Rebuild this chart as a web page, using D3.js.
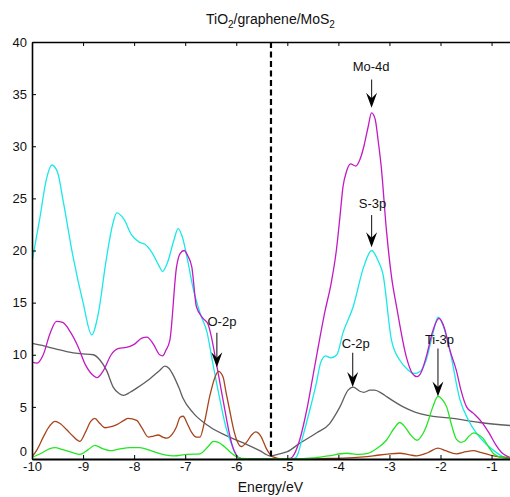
<!DOCTYPE html>
<html>
<head>
<meta charset="utf-8">
<script src="https://cdn.jsdelivr.net/npm/d3@7"></script>
<style>
  html, body { margin: 0; padding: 0; background: #fff; }
  svg text { font-family: "Liberation Sans", Arial, sans-serif; fill: #111; }
  .axis path, .axis line { stroke: #000; }
  .axis text { font-size: 13px; }
</style>
</head>
<body>
<svg id="chart"></svg>
<script>
// density of states, [energy (eV), states]
var cyanDos = [[-10,18.9],[-9.85,23],[-9.72,26.8],[-9.61,28.2],[-9.5,27.5],[-9.38,24.5],[-9.2,19.5],[-9.0,15],[-8.83,11.9],[-8.7,14],[-8.55,19],[-8.42,22.5],[-8.34,23.6],[-8.2,23],[-8.05,21.5],[-7.9,20.8],[-7.79,20.6],[-7.65,19.8],[-7.52,18.6],[-7.44,18.0],[-7.35,18.8],[-7.22,21],[-7.14,22.1],[-7.05,21.2],[-6.95,19],[-6.85,16.5],[-6.71,14.0],[-6.57,12.1],[-6.46,9.2],[-6.32,5.7],[-6.2,3],[-6.12,1.8],[-6.03,0.6],[-5.95,0.1],[-5.85,0],[-5.0,0],[-4.87,0.05],[-4.82,0.2],[-4.70,2.1],[-4.56,4.7],[-4.43,7.3],[-4.35,9.2],[-4.25,9.9],[-4.15,9.7],[-4.03,10.0],[-3.91,12.1],[-3.71,14.6],[-3.5,18.5],[-3.35,20.0],[-3.22,19],[-3.13,17.8],[-2.96,11.4],[-2.80,9.5],[-2.65,8.6],[-2.52,8.2],[-2.4,8.4],[-2.28,9.5],[-2.15,12],[-2.05,13.6],[-1.95,12.8],[-1.82,10.5],[-1.62,5.7],[-1.45,3.7],[-1.30,2.5],[-1.1,1.4],[-0.98,0.9],[-0.84,0.4],[-0.72,0.1],[-0.6,0]];
var magentaDos = [[-10,9.3],[-9.9,9.2],[-9.78,10],[-9.65,12],[-9.52,13.2],[-9.4,13.1],[-9.25,12.2],[-9.1,10.8],[-8.95,9],[-8.8,8],[-8.73,7.8],[-8.6,8.5],[-8.45,10],[-8.3,10.6],[-8.15,10.7],[-8.0,11.0],[-7.85,11.6],[-7.75,11.7],[-7.62,11],[-7.5,10],[-7.44,9.9],[-7.38,10.4],[-7.30,11.4],[-7.17,18.4],[-7.1,19.7],[-7.02,20.0],[-6.95,19.5],[-6.87,18.4],[-6.78,14.6],[-6.65,13.5],[-6.55,12.9],[-6.5,12.0],[-6.39,9.2],[-6.26,5.7],[-6.15,2.8],[-6.09,1.5],[-6.0,0.4],[-5.95,0.1],[-5.85,0],[-5.05,0],[-4.95,0.05],[-4.9,0.2],[-4.76,1.8],[-4.62,4.7],[-4.50,7.9],[-4.36,11.7],[-4.27,14.0],[-4.14,16.9],[-4.04,20.0],[-3.97,23.2],[-3.91,26.1],[-3.84,27.6],[-3.76,28.3],[-3.66,28.1],[-3.58,28.7],[-3.5,30],[-3.42,31.8],[-3.35,33.2],[-3.28,32.6],[-3.22,30.5],[-3.16,28.0],[-3.06,22],[-2.96,17.5],[-2.86,14.6],[-2.67,9.8],[-2.55,8.2],[-2.46,7.9],[-2.38,8.3],[-2.28,9.8],[-2.15,12.3],[-2.03,13.5],[-1.92,12.5],[-1.82,10.5],[-1.69,8.5],[-1.6,6.6],[-1.49,5.0],[-1.36,4.4],[-1.17,3.4],[-1.05,2.5],[-0.91,1.3],[-0.8,0.6],[-0.71,0.3],[-0.6,0.1]];
var grayDos = [[-10,11.1],[-9.8,10.9],[-9.58,10.6],[-9.32,10.3],[-9.06,10.1],[-8.80,10.0],[-8.67,9.5],[-8.54,8.5],[-8.41,6.9],[-8.3,6.3],[-8.21,6.1],[-8.08,6.4],[-7.95,6.8],[-7.69,7.7],[-7.5,8.5],[-7.40,8.9],[-7.32,8.7],[-7.23,8.0],[-7.12,6.8],[-7.04,5.8],[-6.84,4.4],[-6.52,3.1],[-6.13,2.1],[-5.80,1.4],[-5.54,0.8],[-5.34,0.3],[-5.15,0.5],[-5.0,0.7],[-4.76,1.5],[-4.43,2.5],[-4.17,3.4],[-4.05,4.3],[-3.97,5.0],[-3.81,6.6],[-3.71,6.9],[-3.58,6.5],[-3.50,6.4],[-3.38,6.6],[-3.29,6.6],[-3.15,6.3],[-3.06,6.0],[-2.73,5.0],[-2.5,4.5],[-2.28,4.2],[-1.76,3.9],[-1.23,3.5],[-0.6,3.2]];
var brownDos = [[-10,0.2],[-9.9,0.9],[-9.78,2.1],[-9.65,3.2],[-9.55,3.6],[-9.45,3.4],[-9.32,2.8],[-9.2,2.2],[-9.06,1.7],[-8.95,2.6],[-8.85,3.6],[-8.77,3.9],[-8.67,3.4],[-8.57,3.0],[-8.45,3.1],[-8.34,3.3],[-8.2,3.7],[-8.12,3.9],[-7.95,3.7],[-7.85,3.0],[-7.72,2.1],[-7.62,2.2],[-7.53,2.3],[-7.44,2.1],[-7.36,2.0],[-7.25,2.4],[-7.17,3.1],[-7.1,4.0],[-7.04,4.1],[-6.96,3.4],[-6.88,2.6],[-6.78,2.1],[-6.71,2.1],[-6.62,3.6],[-6.52,6.0],[-6.42,7.8],[-6.35,8.4],[-6.26,7.9],[-6.2,6.4],[-6.13,4.7],[-6.05,2.8],[-5.99,1.8],[-5.9,1.2],[-5.8,1.6],[-5.7,2.3],[-5.62,2.6],[-5.52,2.2],[-5.41,1.0],[-5.33,0.4],[-5.28,0.2],[-5.1,0],[-4.5,0],[-4.2,0.05],[-3.8,0.1],[-3.5,0.2],[-3.32,0.3],[-3.0,0.5],[-2.8,0.55],[-2.6,0.4],[-2.47,0.3],[-2.25,0.6],[-2.05,1.05],[-1.9,0.8],[-1.69,0.5],[-1.5,0.7],[-1.36,0.8],[-1.2,0.6],[-1.04,0.4],[-0.85,0.2],[-0.71,0.15],[-0.6,0.1]];
var greenDos = [[-10,0.15],[-9.8,0.6],[-9.65,1.0],[-9.55,1.1],[-9.4,0.9],[-9.2,0.6],[-9.06,0.45],[-8.9,0.9],[-8.77,1.3],[-8.62,1.0],[-8.47,0.8],[-8.3,0.95],[-8.08,1.1],[-7.89,1.1],[-7.7,0.85],[-7.56,0.6],[-7.4,0.4],[-7.23,0.3],[-6.97,0.45],[-6.71,0.5],[-6.55,1.2],[-6.45,1.7],[-6.35,1.6],[-6.19,1.0],[-6.08,0.5],[-5.99,0.2],[-5.9,0.05],[-5.5,0],[-4.9,0],[-4.5,0.1],[-4.2,0.3],[-3.84,0.55],[-3.6,0.45],[-3.42,0.55],[-3.25,1.0],[-3.06,1.8],[-2.9,3.0],[-2.80,3.5],[-2.70,3.1],[-2.60,2.4],[-2.46,1.8],[-2.36,2.3],[-2.28,3.1],[-2.15,5.0],[-2.05,6.0],[-1.95,5.6],[-1.88,5.0],[-1.78,3.2],[-1.69,1.9],[-1.6,1.6],[-1.53,1.7],[-1.44,2.2],[-1.35,2.5],[-1.25,2.3],[-1.17,2.0],[-1.05,1.1],[-0.97,0.55],[-0.84,0.2],[-0.71,0.07],[-0.6,0.05]];

var xTicks = [-10, -9, -8, -7, -6, -5, -4, -3, -2, -1];
var yTicks = [0, 5, 10, 15, 20, 25, 30, 35, 40];
var fermiLevel = -5.32;

// peak annotations
var annLabels = ['Mo-4d', 'S-3p', 'O-2p', 'C-2p', 'Ti-3p'];
var annX = [-3.35, -3.35, -6.38, -3.72, -2.05];
var annTextX = [-3.36, -3.33, -6.28, -3.66, -2.02];
var annTextY = [37.2, 24.1, 12.8, 10.6, 11.0];
var annTailY = [36.4, 23.4, 12.1, 10.2, 10.6];
var annTipY = [33.7, 20.3, 8.8, 6.9, 6.0];

var render = (selector) => {
  var size = { width: 510, height: 497 };
  var margin = { top: 42, right: -2, bottom: 38, left: 32 };
  var width = size.width - margin.left - margin.right;
  var height = size.height - margin.top - margin.bottom;

  /**
   * scales
   */
  var x = d3.scaleLinear().domain([-10, -0.6]).range([0, width]);
  var y = d3.scaleLinear().domain([0, 40]).range([height, 0]);

  var svg = d3.select(selector)
    .attr('width', size.width)
    .attr('height', size.height);

  svg.append('defs').append('clipPath')
    .attr('id', 'plot-clip')
    .append('rect')
    .attr('width', width)
    .attr('height', height);

  var chart = svg.append('g')
    .attr('transform', `translate(${ margin.left }, ${ margin.top })`);

  /**
   * curves
   */
  var line = d3.line()
    .x(d => x(d[0]))
    .y(d => y(d[1]))
    .curve(d3.curveMonotoneX);

  var series = [
    { data: grayDos, color: '#5f5f5f' },
    { data: cyanDos, color: '#18e8e8' },
    { data: magentaDos, color: '#c21ac2' },
    { data: brownDos, color: '#a8441c' },
    { data: greenDos, color: '#22e622' }
  ];

  var plot = chart.append('g').attr('clip-path', 'url(#plot-clip)');
  plot.selectAll('path.dos')
    .data(series)
    .enter().append('path')
      .attr('class', 'dos')
      .attr('fill', 'none')
      .attr('stroke', d => d.color)
      .attr('stroke-width', 1.3)
      .attr('d', d => line(d.data));

  // fermi level
  chart.append('line')
    .attr('x1', x(fermiLevel)).attr('x2', x(fermiLevel))
    .attr('y1', y(40)).attr('y2', y(0))
    .attr('stroke', '#000')
    .attr('stroke-width', 2.2)
    .attr('stroke-dasharray', '6,3.5');

  /**
   * axes (plain hyphen minus like the original)
   */
  var plain = d => String(d);

  chart.append('g')
    .attr('class', 'axis x')
    .attr('transform', `translate(0, ${ height })`)
    .call(d3.axisBottom(x).tickValues(xTicks).tickFormat(plain).tickSizeInner(-4).tickSizeOuter(0).tickPadding(3))
    .call(g => g.select('.domain').attr('stroke-width', 2));

  chart.append('g')
    .attr('class', 'axis top')
    .call(d3.axisTop(x).tickValues(xTicks).tickSizeInner(-4).tickSizeOuter(0).tickFormat(''))
    .call(g => g.select('.domain').attr('stroke-width', 1.6));

  chart.append('g')
    .attr('class', 'axis y')
    .call(d3.axisLeft(y).tickValues(yTicks).tickFormat(plain).tickSizeInner(-4).tickSizeOuter(0).tickPadding(5))
    .call(g => g.select('.domain').attr('stroke-width', 1.6))
    // lift the zero label off the x labels
    .call(g => g.selectAll('.tick').filter(d => d === 0).select('text').attr('dy', '-0.3em'));

  chart.selectAll('.axis text').attr('font-size', 13);

  /**
   * annotations
   */
  var ann = chart.selectAll('g.ann')
    .data(annLabels)
    .enter().append('g')
      .attr('class', 'ann');

  ann.append('text')
    .attr('x', (d, i) => x(annTextX[i]))
    .attr('y', (d, i) => y(annTextY[i]))
    .attr('text-anchor', 'middle')
    .attr('font-size', 13)
    .text(d => d);

  ann.append('line')
    .attr('x1', (d, i) => x(annX[i])).attr('x2', (d, i) => x(annX[i]))
    .attr('y1', (d, i) => y(annTailY[i]))
    .attr('y2', (d, i) => y(annTipY[i]) - 8)
    .attr('stroke', '#333')
    .attr('stroke-width', 1.2);

  ann.append('path')
    .attr('transform', (d, i) => `translate(${ x(annX[i]) }, ${ y(annTipY[i]) })`)
    .attr('d', 'M0,0 L-5.5,-15 L0,-9.5 L5.5,-15 Z')
    .attr('fill', '#000');

  /**
   * titles
   */
  var title = svg.append('text')
    .attr('x', margin.left + x(-5.33))
    .attr('y', 24)
    .attr('text-anchor', 'middle')
    .attr('font-size', 14);
  title.append('tspan').text('TiO');
  title.append('tspan').attr('font-size', 10).attr('dy', 4).text('2');
  title.append('tspan').attr('dy', -4).text('/graphene/MoS');
  title.append('tspan').attr('font-size', 10).attr('dy', 4).text('2');

  svg.append('text')
    .attr('x', margin.left + x(-5.33))
    .attr('y', 492)
    .attr('text-anchor', 'middle')
    .attr('font-size', 14)
    .text('Energy/eV');
};

render('#chart');
</script>
</body>
</html>
